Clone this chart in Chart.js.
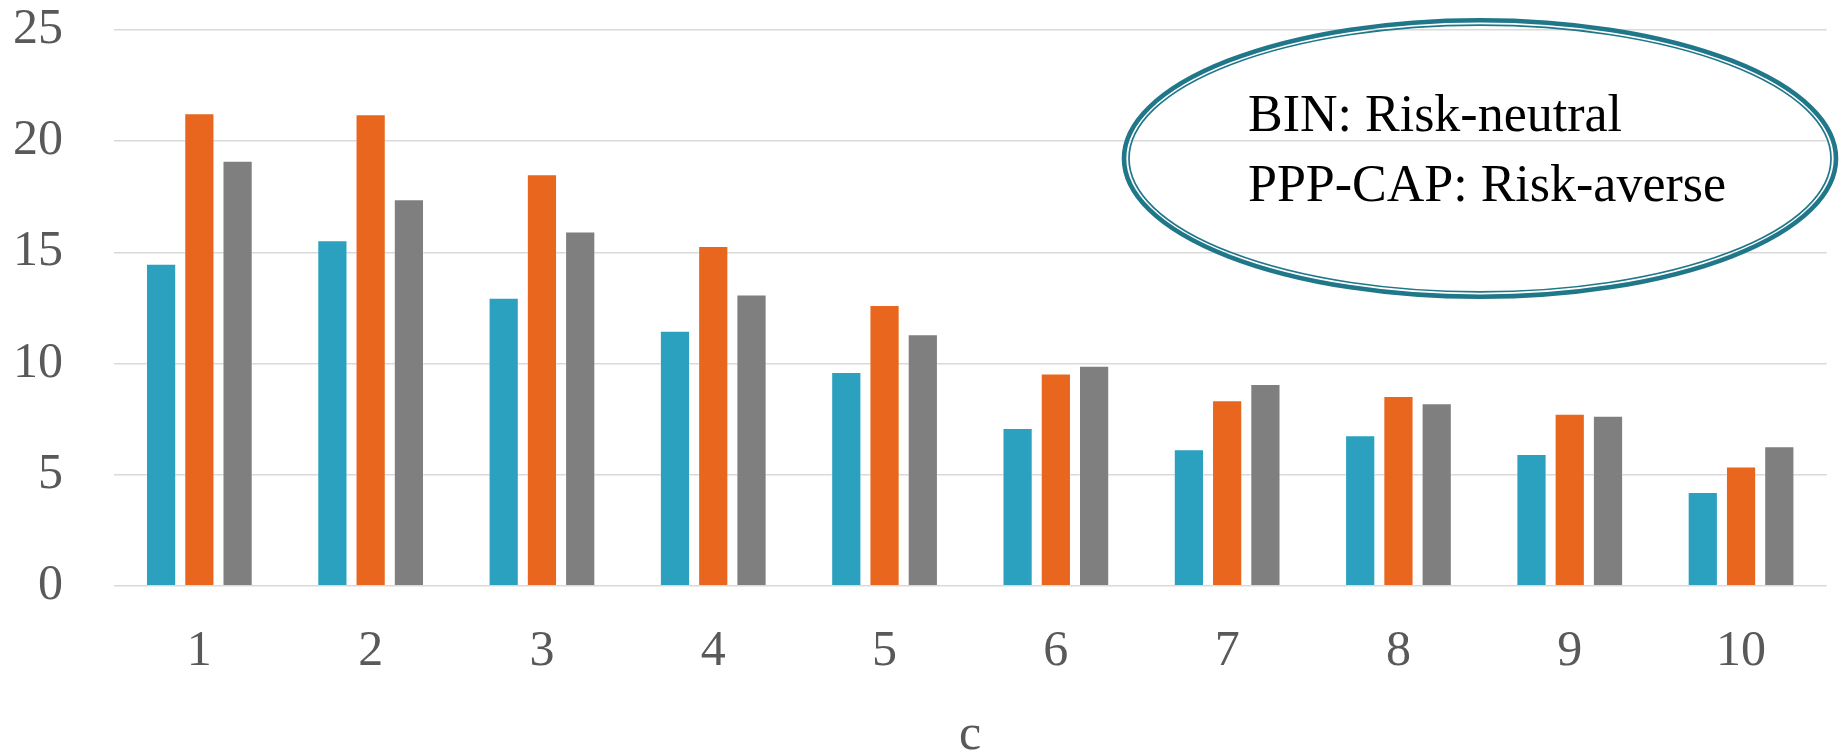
<!DOCTYPE html>
<html>
<head>
<meta charset="utf-8">
<script src="https://cdn.jsdelivr.net/npm/chart.js@4.4.1/dist/chart.umd.min.js"></script>
<style>
html,body{margin:0;padding:0;background:#fff;}
#wrap{width:1839px;height:751px;position:relative;}
</style>
</head>
<body>
<div id="wrap"><canvas id="c" width="1839" height="751"></canvas></div>
<script>
// ---- data ----
const categories = ['1','2','3','4','5','6','7','8','9','10'];
const seriesBlue   = [14.48, 15.54, 12.95, 11.47, 9.61, 7.09, 6.14, 6.77, 5.93, 4.21];
const seriesOrange = [21.25, 21.21, 18.51, 15.28, 12.63, 9.55, 8.34, 8.53, 7.74, 5.36];
const seriesGray   = [19.12, 17.39, 15.93, 13.10, 11.31, 9.89, 9.07, 8.21, 7.65, 6.27];
const yTickValues  = [0, 5, 10, 15, 20, 25];
const xTitle = 'c';
const noteLines = ['BIN: Risk-neutral', 'PPP-CAP: Risk-averse'];

const FONT = '"Liberation Serif", "Times New Roman", serif';
const TICK_COLOR = '#595959';
const GRID_COLOR = '#d9d9d9';

const notePlugin = {
  id: 'note',
  afterDraw(chart) {
    const ctx = chart.ctx;
    ctx.save();
    const cx = 1480, cy = 158.5;
    ctx.strokeStyle = '#1f7789';
    ctx.lineWidth = 4.6;
    ctx.beginPath();
    ctx.ellipse(cx, cy, 356, 138.3, 0, 0, Math.PI * 2);
    ctx.stroke();
    ctx.lineWidth = 1.7;
    ctx.beginPath();
    ctx.ellipse(cx, cy, 351, 133.4, 0, 0, Math.PI * 2);
    ctx.stroke();
    ctx.fillStyle = '#000';
    ctx.font = '52px ' + FONT;
    ctx.textBaseline = 'alphabetic';
    ctx.textAlign = 'left';
    ctx.fillText(noteLines[0], 1248, 131);
    ctx.fillText(noteLines[1], 1248, 201);
    ctx.restore();
  }
};

new Chart(document.getElementById('c'), {
  type: 'bar',
  data: {
    labels: categories,
    datasets: [
      { label: 'Series 1', data: seriesBlue,   backgroundColor: '#2ba1bf', borderColor: 'rgba(255,255,255,0.35)', borderWidth: 1 },
      { label: 'Series 2', data: seriesOrange, backgroundColor: '#e9661f', borderColor: 'rgba(255,255,255,0.35)', borderWidth: 1 },
      { label: 'Series 3', data: seriesGray,   backgroundColor: '#7f7f7f', borderColor: 'rgba(255,255,255,0.35)', borderWidth: 1 }
    ]
  },
  options: {
    responsive: false,
    animation: false,
    devicePixelRatio: 1,
    layout: { padding: { top: 30, right: 12.3, left: 0, bottom: 0 } },
    datasets: { bar: { categoryPercentage: 0.67, barPercentage: 0.79 } },
    plugins: { legend: { display: false }, tooltip: { enabled: false } },
    scales: {
      x: {
        grid: { display: false, drawTicks: false },
        border: { display: false },
        ticks: { color: TICK_COLOR, font: { family: FONT, size: 50 }, padding: 36 },
        title: { display: true, text: xTitle, color: TICK_COLOR, font: { family: FONT, size: 50, lineHeight: 0.61 }, padding: 0 },
        afterFit(scale) { scale.height = 165.3; scale.paddingLeft = 0; scale.paddingRight = 0; }
      },
      y: {
        min: 0, max: 25,
        afterBuildTicks(scale) { scale.ticks = yTickValues.map(v => ({ value: v })); },
        grid: { color: GRID_COLOR, lineWidth: 1.5, drawTicks: false },
        border: { display: false },
        ticks: { color: TICK_COLOR, font: { family: FONT, size: 50 }, padding: 50.7 },
        afterFit(scale) { scale.width = 113.7; scale.paddingTop = 0; scale.paddingBottom = 0; }
      }
    }
  },
  plugins: [notePlugin]
});
</script>
</body>
</html>
